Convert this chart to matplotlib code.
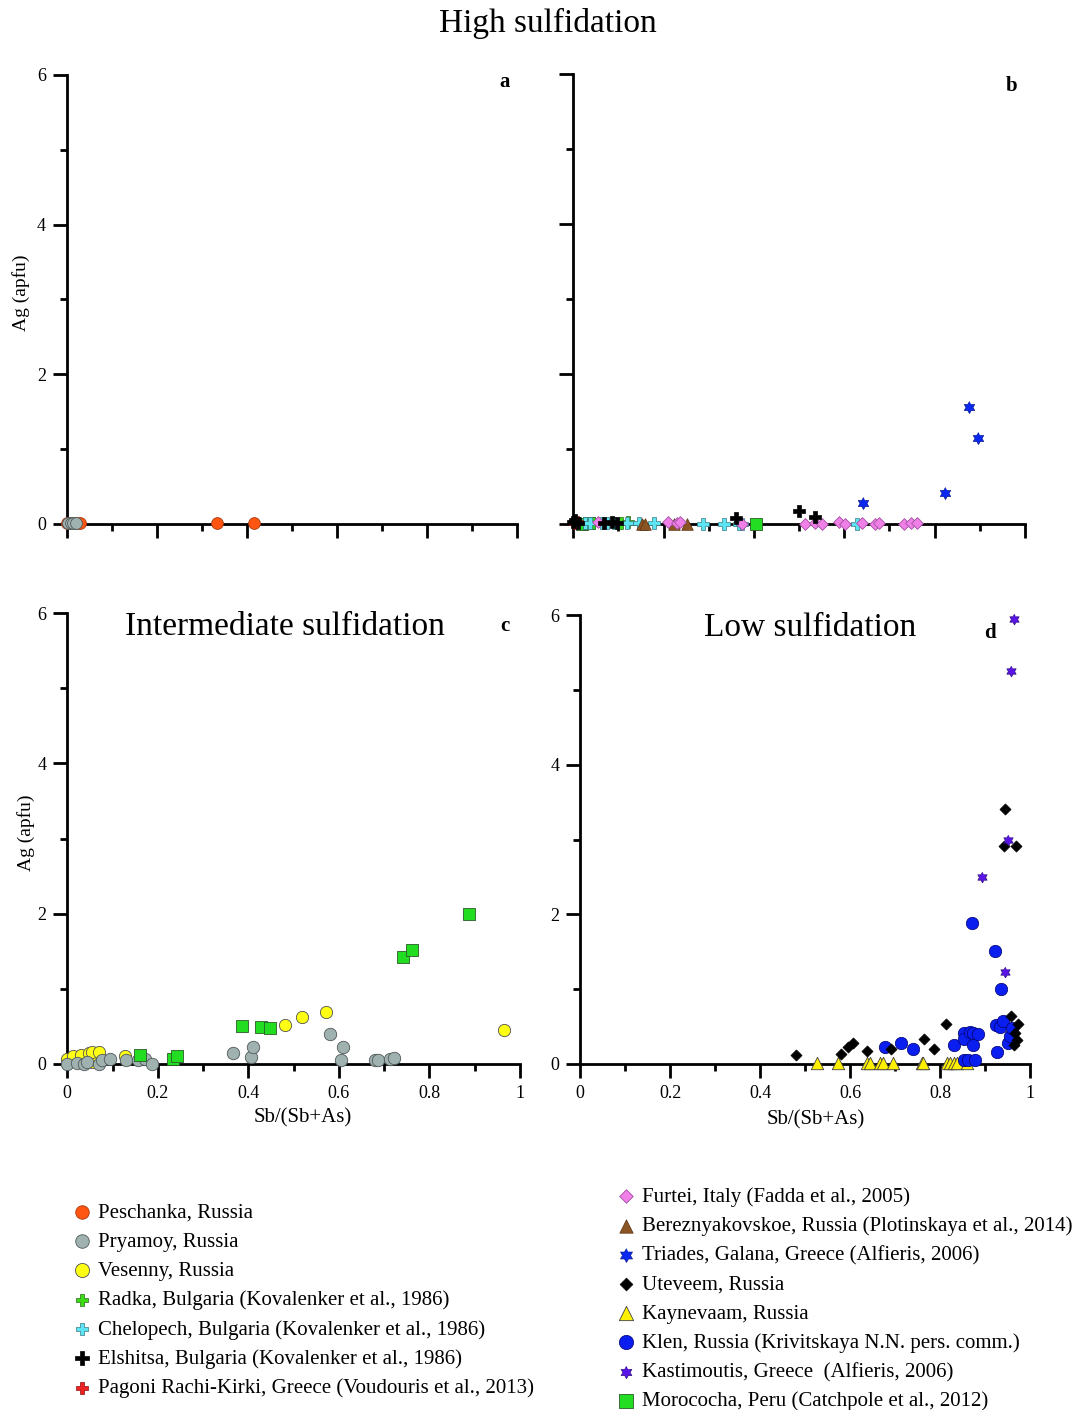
import numpy as np
import matplotlib
matplotlib.use("Agg")
import matplotlib.pyplot as plt
from matplotlib.ticker import FixedLocator

plt.rcParams['font.family'] = ['Liberation Serif', 'DejaVu Serif']

# ---------------- data ----------------
x_ticks = [0, 0.2, 0.4, 0.6, 0.8, 1]
x_tick_labels = ['0', '0.2', '0.4', '0.6', '0.8', '1']
y_ticks = [0, 2, 4, 6]
y_tick_labels = ['0', '2', '4', '6']

# Panel a (high sulfidation)
peschanka_x = [0.0, 0.008, 0.02, 0.03, 0.334, 0.417]
peschanka_y = [0.01, 0.01, 0.01, 0.01, 0.01, 0.01]
pryamoy_a_x = [0.003, 0.01, 0.015, 0.02]
pryamoy_a_y = [0.01, 0.01, 0.01, 0.01]

# Panel b (high sulfidation)
radka_x = [0.012, 0.025, 0.04, 0.105, 0.12]
radka_y = [0.02, 0.0, 0.02, 0.01, 0.03]
morococha_b_x = [0.02, 0.035, 0.405]
morococha_b_y = [0.0, 0.01, 0.0]
chelopech_x = [0.026, 0.037, 0.064, 0.074, 0.089, 0.118, 0.145, 0.178, 0.288, 0.333, 0.366, 0.373, 0.628]
chelopech_y = [0.01, 0.01, 0.01, 0.01, 0.01, 0.01, 0.01, 0.01, 0.0, 0.0, 0.0, 0.0, 0.0]
furtei_x = [0.055, 0.21, 0.229, 0.237, 0.373, 0.514, 0.536, 0.551, 0.588, 0.602, 0.639, 0.669, 0.676, 0.732, 0.747, 0.761]
furtei_y = [0.03, 0.03, 0.02, 0.03, 0.0, 0.0, 0.02, 0.0, 0.03, 0.0, 0.02, 0.0, 0.01, 0.0, 0.01, 0.01]
bereznyak_x = [0.152, 0.159, 0.222, 0.251]
bereznyak_y = [0.0, 0.0, 0.0, 0.0]
pagoni_x = [0.004, 0.008]
pagoni_y = [0.02, 0.03]
elshitsa_x = [0.0, 0.004, 0.01, 0.067, 0.085, 0.097, 0.36, 0.50, 0.536]
elshitsa_y = [0.03, 0.05, 0.02, 0.02, 0.03, 0.01, 0.076, 0.18, 0.10]
triades_x = [0.642, 0.823, 0.877, 0.896]
triades_y = [0.28, 0.42, 1.56, 1.15]

# Panel c (intermediate sulfidation)
vesenny_x = [0.0, 0.013, 0.03, 0.048, 0.054, 0.055, 0.071, 0.128, 0.48, 0.518, 0.572, 0.965]
vesenny_y = [0.07, 0.10, 0.12, 0.14, 0.03, 0.16, 0.16, 0.11, 0.52, 0.63, 0.69, 0.45]
pryamoy_c_x = [0.0, 0.022, 0.036, 0.044, 0.071, 0.077, 0.095, 0.13, 0.157, 0.172, 0.188,
               0.366, 0.405, 0.41, 0.58, 0.605, 0.61, 0.68, 0.686, 0.713, 0.722]
pryamoy_c_y = [0.0, 0.01, 0.0, 0.03, 0.0, 0.05, 0.06, 0.05, 0.05, 0.06, 0.0,
               0.14, 0.09, 0.22, 0.40, 0.05, 0.22, 0.05, 0.05, 0.07, 0.08]
morococha_c_x = [0.161, 0.233, 0.243, 0.386, 0.428, 0.447, 0.741, 0.761, 0.888]
morococha_c_y = [0.12, 0.07, 0.10, 0.50, 0.49, 0.48, 1.42, 1.51, 2.00]

# Panel d (low sulfidation)
kaynevaam_x = [0.527, 0.574, 0.637, 0.644, 0.667, 0.674, 0.695, 0.759, 0.763, 0.815, 0.822, 0.83, 0.837, 0.859]
kaynevaam_y = [0.02] * 14
klen_x = [0.678, 0.713, 0.741, 0.832, 0.853, 0.853, 0.853, 0.862, 0.867, 0.870, 0.874, 0.874, 0.878, 0.885,
          0.922, 0.924, 0.927, 0.933, 0.936, 0.939, 0.952, 0.956, 0.959]
klen_y = [0.23, 0.28, 0.20, 0.25, 0.41, 0.33, 0.06, 0.06, 0.43, 1.88, 0.41, 0.25, 0.05, 0.40,
          1.51, 0.52, 0.16, 0.50, 1.00, 0.57, 0.28, 0.37, 0.48]
uteveem_x = [0.48, 0.581, 0.596, 0.607, 0.637, 0.69, 0.765, 0.787, 0.813,
             0.943, 0.945, 0.957, 0.964, 0.967, 0.969, 0.97, 0.974]
uteveem_y = [0.12, 0.14, 0.23, 0.28, 0.17, 0.20, 0.33, 0.20, 0.53,
             2.91, 3.41, 0.64, 0.25, 0.41, 2.91, 0.32, 0.54]
kastimoutis_x = [0.893, 0.945, 0.952, 0.958, 0.964]
kastimoutis_y = [2.50, 1.23, 2.99, 5.25, 5.95]

# ---------------- styles ----------------
ang = np.deg2rad(np.arange(12) * 30 + 90)
rad = np.where(np.arange(12) % 2 == 0, 1.0, 1 / np.sqrt(3))
HEX = list(zip(rad * np.cos(ang), rad * np.sin(ang)))

serif = ['Liberation Serif', 'DejaVu Serif']

fig = plt.figure(figsize=(10.73, 14.10), dpi=100)
ax_a = fig.add_axes([66.7 / 1073, 1 - 524 / 1410, 450 / 1073, 449 / 1410])
ax_b = fig.add_axes([573.3 / 1073, 1 - 524 / 1410, 451.7 / 1073, 450 / 1410])
ax_c = fig.add_axes([67.3 / 1073, 1 - 1064 / 1410, 452.7 / 1073, 451 / 1410])
ax_d = fig.add_axes([580 / 1073, 1 - 1064 / 1410, 450 / 1073, 449 / 1410])

handles = {}


def sc(ax, x, y, label, **kw):
    h = ax.scatter(x, y, clip_on=False, zorder=3, **kw)
    handles.setdefault(label, h)
    return h


def style(ax, xlab, ylab):
    ax.set_xlim(0, 1)
    ax.set_ylim(0, 6)
    for s in ['top', 'right']:
        ax.spines[s].set_visible(False)
    for s in ['left', 'bottom']:
        ax.spines[s].set_linewidth(2)
    ax.set_xticks(x_ticks)
    ax.set_xticklabels(x_tick_labels)
    ax.xaxis.set_minor_locator(FixedLocator([0.1, 0.3, 0.5, 0.7, 0.9]))
    ax.set_yticks(y_ticks)
    ax.set_yticklabels(y_tick_labels)
    ax.yaxis.set_minor_locator(FixedLocator([1, 3, 5]))
    ax.tick_params(which='major', direction='out', length=10, width=2, labelsize=13)
    ax.tick_params(axis='x', which='major', pad=5)
    ax.tick_params(axis='y', which='major', pad=5)
    ax.tick_params(which='minor', direction='out', length=5, width=2)
    ax.tick_params(labelbottom=xlab, labelleft=ylab)
    for t in ax.get_xticklabels() + ax.get_yticklabels():
        t.set_family(serif)


for ax, xl, yl in [(ax_a, False, True), (ax_b, False, False), (ax_c, True, True), (ax_d, True, True)]:
    style(ax, xl, yl)

# Panel a
sc(ax_a, peschanka_x, peschanka_y, 'Peschanka, Russia', marker='o', s=72,
   facecolor='#FF5512', edgecolor='#A83A10', linewidth=0.6)
sc(ax_a, pryamoy_a_x, pryamoy_a_y, 'Pryamoy, Russia', marker='o', s=72,
   facecolor='#A0B2B0', edgecolor='#505858', linewidth=0.6)

# Panel b
sc(ax_b, radka_x, radka_y, 'Radka, Bulgaria (Kovalenker et al., 1986)', marker='P', s=66,
   facecolor='#3CDC14', edgecolor='#2A6A1A', linewidth=0.5)
sc(ax_b, morococha_b_x, morococha_b_y, 'Morococha, Peru (Catchpole et al., 2012)', marker='s', s=74,
   facecolor='#22DD22', edgecolor='#2A5A2A', linewidth=0.6)
sc(ax_b, chelopech_x, chelopech_y, 'Chelopech, Bulgaria (Kovalenker et al., 1986)', marker='P', s=66,
   facecolor='#5CE4F2', edgecolor='#3A7A85', linewidth=0.5)
sc(ax_b, bereznyak_x, bereznyak_y, 'Bereznyakovskoe, Russia (Plotinskaya et al., 2014)', marker='^', s=70,
   facecolor='#8B5523', edgecolor='#5A3010', linewidth=0.5)
sc(ax_b, furtei_x, furtei_y, 'Furtei, Italy (Fadda et al., 2005)', marker='D', s=36,
   facecolor='#F080E8', edgecolor='#A050A0', linewidth=0.6)
sc(ax_b, pagoni_x, pagoni_y, 'Pagoni Rachi-Kirki, Greece (Voudouris et al., 2013)', marker='P', s=66,
   facecolor='#EE2222', edgecolor='#881111', linewidth=0.5)
sc(ax_b, elshitsa_x, elshitsa_y, 'Elshitsa, Bulgaria (Kovalenker et al., 1986)', marker='P', s=72,
   facecolor='black', edgecolor='black', linewidth=0.5)
sc(ax_b, triades_x, triades_y, 'Triades, Galana, Greece (Alfieris, 2006)', marker=HEX, s=75,
   facecolor='#0A28F0', edgecolor='#0A1A90', linewidth=0.5)

# Panel c
sc(ax_c, vesenny_x, vesenny_y, 'Vesenny, Russia', marker='o', s=78,
   facecolor='#FFFF14', edgecolor='#505050', linewidth=0.6)
sc(ax_c, pryamoy_c_x, pryamoy_c_y, 'Pryamoy, Russia', marker='o', s=80,
   facecolor='#A0B2B0', edgecolor='#505858', linewidth=0.6)
sc(ax_c, morococha_c_x, morococha_c_y, 'Morococha, Peru (Catchpole et al., 2012)', marker='s', s=74,
   facecolor='#22DD22', edgecolor='#2A5A2A', linewidth=0.6)

# Panel d
sc(ax_d, kaynevaam_x, kaynevaam_y, 'Kaynevaam, Russia', marker='^', s=80,
   facecolor='#FFF000', edgecolor='#404040', linewidth=0.6)
sc(ax_d, klen_x, klen_y, 'Klen, Russia (Krivitskaya N.N. pers. comm.)', marker='o', s=80,
   facecolor='#0A1EF0', edgecolor='#00006A', linewidth=0.5)
sc(ax_d, uteveem_x, uteveem_y, 'Uteveem, Russia', marker='D', s=32,
   facecolor='black', edgecolor='black', linewidth=0.5)
sc(ax_d, kastimoutis_x, kastimoutis_y, 'Kastimoutis, Greece  (Alfieris, 2006)', marker=HEX, s=60,
   facecolor='#5A14E6', edgecolor='#301080', linewidth=0.5)

# texts
fig.text(548 / 1073, 1 - 23 / 1410, 'High sulfidation', ha='center', va='center', fontsize=24, family=serif)
ax_c.text(0.481, 0.969, 'Intermediate sulfidation', transform=ax_c.transAxes, ha='center', va='center',
          fontsize=24, family=serif)
ax_d.text(0.511, 0.971, 'Low sulfidation', transform=ax_d.transAxes, ha='center', va='center',
          fontsize=24, family=serif)
for ax, lab, px, py in [(ax_a, 'a', 0.974, 0.984), (ax_b, 'b', 0.971, 0.973),
                        (ax_c, 'c', 0.967, 0.971), (ax_d, 'd', 0.911, 0.96)]:
    ax.text(px, py, lab, transform=ax.transAxes, ha='center', va='center', fontsize=15,
            fontweight='bold', family=serif)

ax_a.set_ylabel('Ag (apfu)', fontsize=14, family=serif)
ax_a.yaxis.set_label_coords(-0.082, 0.514)
ax_c.set_ylabel('Ag (apfu)', fontsize=14, family=serif)
ax_c.yaxis.set_label_coords(-0.071, 0.512)
for ax in [ax_c, ax_d]:
    ax.set_xlabel('Sb/(Sb+As)', fontsize=15, family=serif)
ax_c.xaxis.set_label_coords(0.52, -0.097)
ax_d.xaxis.set_label_coords(0.524, -0.102)

# legends
left_labels = ['Peschanka, Russia', 'Pryamoy, Russia', 'Vesenny, Russia',
               'Radka, Bulgaria (Kovalenker et al., 1986)',
               'Chelopech, Bulgaria (Kovalenker et al., 1986)',
               'Elshitsa, Bulgaria (Kovalenker et al., 1986)',
               'Pagoni Rachi-Kirki, Greece (Voudouris et al., 2013)']
right_labels = ['Furtei, Italy (Fadda et al., 2005)',
                'Bereznyakovskoe, Russia (Plotinskaya et al., 2014)',
                'Triades, Galana, Greece (Alfieris, 2006)',
                'Uteveem, Russia', 'Kaynevaam, Russia',
                'Klen, Russia (Krivitskaya N.N. pers. comm.)',
                'Kastimoutis, Greece  (Alfieris, 2006)',
                'Morococha, Peru (Catchpole et al., 2012)']

common = dict(loc='upper left', frameon=False, scatterpoints=1, borderpad=0, borderaxespad=0,
              handlelength=0.8, handletextpad=0.35, labelspacing=0.46, markerscale=1.15,
              prop={'family': serif, 'size': 15})
fig.legend([handles[l] for l in left_labels], left_labels,
           bbox_to_anchor=(74 / 1073, 1 - 1203 / 1410), **common)
fig.legend([handles[l] for l in right_labels], right_labels,
           bbox_to_anchor=(618 / 1073, 1 - 1187 / 1410), **common)

fig.savefig('out.png', dpi=100)
